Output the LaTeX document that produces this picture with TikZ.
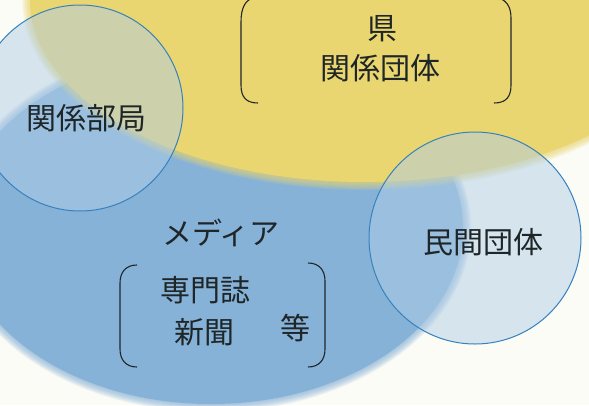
\documentclass[tikz,border=0pt]{standalone}
\usepackage{fontspec}
\newfontfamily\cjk{Noto Sans CJK JP}
\definecolor{bg}{RGB}{252,252,246}
\definecolor{yel}{RGB}{234,214,112}
\definecolor{blu}{RGB}{135,178,216}
\definecolor{circfill}{RGB}{175,205,230}
\definecolor{circline}{RGB}{55,130,190}
\definecolor{ink}{RGB}{30,38,40}
\begin{document}
\begin{tikzpicture}[x=1pt,y=-1pt,
  lbl/.style={font=\cjk\fontsize{30}{34}\selectfont, text=ink, inner sep=0pt},
  circ/.style={circle, draw=circline, line width=1pt, fill=circfill, fill opacity=0.5, draw opacity=1, inner sep=0pt},
  brk/.style={draw=ink, line width=1.1pt}]
\useasboundingbox (0,0) rectangle (589,405);
\fill[bg] (0,0) rectangle (589,405);
\begin{scope}
\clip (0,0) rectangle (589,405);
% soft-edged blue area
\foreach \d in {1,...,8}{
  \fill[blu, opacity=0.13] (211,228) ellipse [x radius=252+\d, y radius=176+\d];
}
\fill[blu] (211,228) ellipse [x radius=252, y radius=176];
% soft-edged yellow area
\foreach \d in {1,...,8}{
  \fill[yel, opacity=0.13] (365,0) ellipse [x radius=335+\d, y radius=182+\d];
}
\fill[yel] (365,0) ellipse [x radius=335, y radius=182];
\node[circ, minimum size=206pt] (bukyoku) at (80,108) {};
\node[circ, minimum size=212pt] (minkan) at (475,238) {};
\end{scope}
% brackets
\draw[brk] (256,-3) .. controls (245,-1) and (241,8) .. (241,22) -- (241,85) .. controls (241,97) and (246,103) .. (258,103);
\draw[brk] (495,-3) .. controls (506,-1) and (511,6) .. (511,18) -- (511,85) .. controls (511,97) and (506,103) .. (494,103);
\draw[brk] (137,265) .. controls (126,265) and (120,272) .. (120,283) -- (120,349) .. controls (120,360) and (126,367) .. (137,367);
\draw[brk] (308,263) .. controls (319,263) and (325,270) .. (325,281) -- (325,349) .. controls (325,360) and (319,367) .. (308,367);
% labels
\node[lbl] (ken) at (382,29) {県};
\node[lbl] (kankei) at (380,68) {関係団体};
\node[lbl] (bukyokut) at (87,118) {関係部局};
\node[lbl] (media) at (221,233) {メディア};
\node[lbl] (senmon) at (205,290) {専門誌};
\node[lbl] (shinbun) at (204,332) {新聞};
\node[lbl] (nado) at (295,328) {等};
\node[lbl] (minkant) at (483,242) {民間団体};
\end{tikzpicture}
\end{document}
